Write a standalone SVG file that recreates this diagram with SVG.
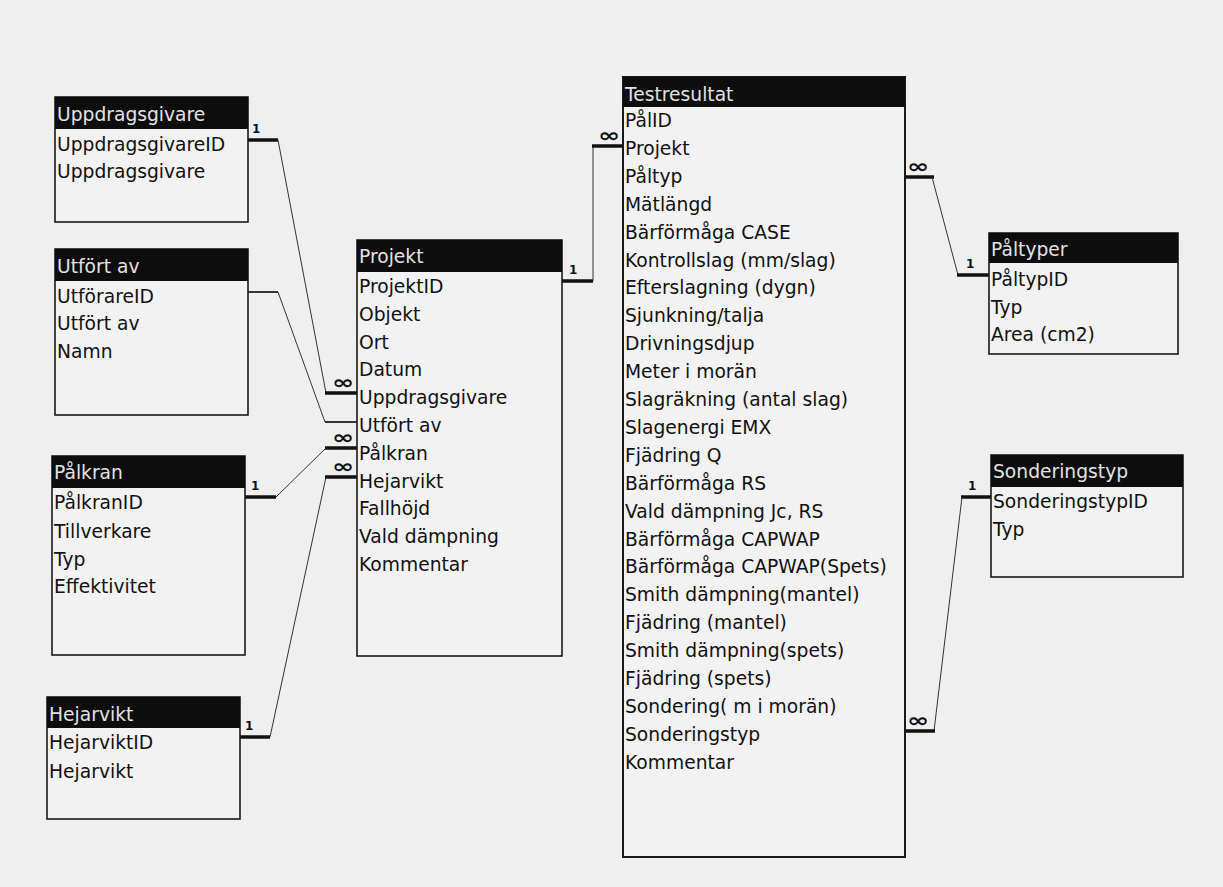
<svg xmlns="http://www.w3.org/2000/svg" width="1223" height="887" viewBox="0 0 1223 887">
<style>
.bg{fill:#efefef}
.box{fill:#f2f2f2;stroke:#1a1a1a;stroke-width:1.6}
.hdr{fill:#0d0d0d}
.ht{font-family:"DejaVu Sans",Verdana,sans-serif;font-size:18.7px;fill:#e2e2e2}
.ft{font-family:"DejaVu Sans",Verdana,sans-serif;font-size:18.7px;fill:#111}
.thin{stroke:#333;stroke-width:1;fill:none}
.thick{stroke:#111;stroke-width:3.5;fill:none}
.mid{stroke:#222;stroke-width:1.8;fill:none}
.one{font-family:"DejaVu Sans",Verdana,sans-serif;font-size:12px;font-weight:bold;fill:#111}
.inf{font-family:"DejaVu Sans",Verdana,sans-serif;font-size:19px;font-weight:bold;fill:#111;text-anchor:middle}
</style>
<rect class="bg" x="0" y="0" width="1223" height="887"/>

<g id="connectors">
  <!-- Uppdragsgivare -> Projekt -->
  <line class="thick" x1="248" y1="140" x2="278" y2="140"/>
  <line class="thin" x1="278" y1="140" x2="326" y2="393"/>
  <line class="thick" x1="325" y1="393" x2="357" y2="393"/>
  <text class="one" x="252" y="133">1</text>
  <text class="inf" transform="translate(343,389) scale(1.4,1)">∞</text>
  <!-- Utfört av -> Projekt -->
  <line class="mid" x1="248" y1="292" x2="278" y2="292"/>
  <line class="thin" x1="278" y1="292" x2="325" y2="422"/>
  <line class="mid" x1="325" y1="422" x2="357" y2="422"/>
  <!-- Pålkran -> Projekt -->
  <line class="thick" x1="245" y1="497" x2="276" y2="497"/>
  <line class="thin" x1="276" y1="497" x2="326" y2="448"/>
  <line class="thick" x1="325" y1="448" x2="357" y2="448"/>
  <text class="one" x="251" y="490">1</text>
  <text class="inf" transform="translate(343,444) scale(1.4,1)">∞</text>
  <!-- Hejarvikt -> Projekt -->
  <line class="thick" x1="240" y1="737" x2="270" y2="737"/>
  <line class="thin" x1="270" y1="737" x2="326" y2="477"/>
  <line class="thick" x1="325" y1="477" x2="357" y2="477"/>
  <text class="one" x="245" y="730">1</text>
  <text class="inf" transform="translate(343,473) scale(1.4,1)">∞</text>
  <!-- Projekt -> Testresultat -->
  <line class="thick" x1="562" y1="281" x2="593" y2="281"/>
  <line class="thin" x1="593" y1="281" x2="593" y2="146"/>
  <line class="thick" x1="592" y1="146" x2="623" y2="146"/>
  <text class="one" x="569" y="274">1</text>
  <text class="inf" transform="translate(609,142) scale(1.4,1)">∞</text>
  <!-- Testresultat -> Påltyper -->
  <line class="thick" x1="905" y1="177" x2="934" y2="177"/>
  <line class="thin" x1="932" y1="177" x2="958" y2="275"/>
  <line class="thick" x1="957" y1="275" x2="989" y2="275"/>
  <text class="one" x="966" y="268">1</text>
  <text class="inf" transform="translate(918,173) scale(1.4,1)">∞</text>
  <!-- Testresultat -> Sonderingstyp -->
  <line class="thick" x1="961" y1="497" x2="991" y2="497"/>
  <line class="thin" x1="962" y1="497" x2="934" y2="731"/>
  <line class="thick" x1="905" y1="731" x2="935" y2="731"/>
  <text class="one" x="968" y="490">1</text>
  <text class="inf" transform="translate(918,727) scale(1.4,1)">∞</text>
</g>

<g id="node-uppdragsgivare">
  <rect class="box" x="55" y="97" width="193" height="125"/>
  <rect class="hdr" x="55" y="97" width="193" height="32"/>
  <text class="ht" x="57" y="121">Uppdragsgivare</text>
  <text class="ft" x="57" y="151">UppdragsgivareID</text>
  <text class="ft" x="57" y="178">Uppdragsgivare</text>
</g>

<g id="node-utfort-av">
  <rect class="box" x="55" y="249" width="193" height="166"/>
  <rect class="hdr" x="55" y="249" width="193" height="32"/>
  <text class="ht" x="57" y="273">Utfört av</text>
  <text class="ft" x="57" y="303">UtförareID</text>
  <text class="ft" x="57" y="330">Utfört av</text>
  <text class="ft" x="57" y="358">Namn</text>
</g>

<g id="node-palkran">
  <rect class="box" x="52" y="456" width="193" height="199"/>
  <rect class="hdr" x="52" y="456" width="193" height="32"/>
  <text class="ht" x="54" y="479">Pålkran</text>
  <text class="ft" x="54" y="509">PålkranID</text>
  <text class="ft" x="54" y="538">Tillverkare</text>
  <text class="ft" x="54" y="566">Typ</text>
  <text class="ft" x="54" y="593">Effektivitet</text>
</g>

<g id="node-hejarvikt">
  <rect class="box" x="47" y="697" width="193" height="122"/>
  <rect class="hdr" x="47" y="697" width="193" height="31"/>
  <text class="ht" x="49" y="721">Hejarvikt</text>
  <text class="ft" x="49" y="749">HejarviktID</text>
  <text class="ft" x="49" y="778">Hejarvikt</text>
</g>

<g id="node-projekt">
  <rect class="box" x="357" y="240" width="205" height="416"/>
  <rect class="hdr" x="357" y="240" width="205" height="32"/>
  <text class="ht" x="359" y="263">Projekt</text>
  <text class="ft" x="359" y="293">ProjektID</text>
  <text class="ft" x="359" y="321">Objekt</text>
  <text class="ft" x="359" y="349">Ort</text>
  <text class="ft" x="359" y="376">Datum</text>
  <text class="ft" x="359" y="404">Uppdragsgivare</text>
  <text class="ft" x="359" y="432">Utfört av</text>
  <text class="ft" x="359" y="460">Pålkran</text>
  <text class="ft" x="359" y="488">Hejarvikt</text>
  <text class="ft" x="359" y="515">Fallhöjd</text>
  <text class="ft" x="359" y="543">Vald dämpning</text>
  <text class="ft" x="359" y="571">Kommentar</text>
</g>

<g id="node-testresultat">
  <rect class="box" x="623" y="77" width="282" height="780" style="stroke-width:2"/>
  <rect class="hdr" x="623" y="77" width="282" height="30"/>
  <text class="ht" x="625" y="101">Testresultat</text>
  <text class="ft" x="625" y="127">PålID</text>
  <text class="ft" x="625" y="155">Projekt</text>
  <text class="ft" x="625" y="183">Påltyp</text>
  <text class="ft" x="625" y="211">Mätlängd</text>
  <text class="ft" x="625" y="239">Bärförmåga CASE</text>
  <text class="ft" x="625" y="266.5">Kontrollslag (mm/slag)</text>
  <text class="ft" x="625" y="294.4">Efterslagning (dygn)</text>
  <text class="ft" x="625" y="322.3">Sjunkning/talja</text>
  <text class="ft" x="625" y="350.2">Drivningsdjup</text>
  <text class="ft" x="625" y="378.1">Meter i morän</text>
  <text class="ft" x="625" y="406">Slagräkning (antal slag)</text>
  <text class="ft" x="625" y="433.9">Slagenergi EMX</text>
  <text class="ft" x="625" y="461.8">Fjädring Q</text>
  <text class="ft" x="625" y="489.7">Bärförmåga RS</text>
  <text class="ft" x="625" y="517.6">Vald dämpning Jc, RS</text>
  <text class="ft" x="625" y="545.5">Bärförmåga CAPWAP</text>
  <text class="ft" x="625" y="573.4">Bärförmåga CAPWAP(Spets)</text>
  <text class="ft" x="625" y="601.3">Smith dämpning(mantel)</text>
  <text class="ft" x="625" y="629.2">Fjädring (mantel)</text>
  <text class="ft" x="625" y="657.1">Smith dämpning(spets)</text>
  <text class="ft" x="625" y="685">Fjädring (spets)</text>
  <text class="ft" x="625" y="712.9">Sondering( m i morän)</text>
  <text class="ft" x="625" y="740.8">Sonderingstyp</text>
  <text class="ft" x="625" y="768.7">Kommentar</text>
</g>

<g id="node-paltyper">
  <rect class="box" x="989" y="233" width="189" height="121"/>
  <rect class="hdr" x="989" y="233" width="189" height="30"/>
  <text class="ht" x="991" y="256">Påltyper</text>
  <text class="ft" x="991" y="286">PåltypID</text>
  <text class="ft" x="991" y="314">Typ</text>
  <text class="ft" x="991" y="341">Area (cm2)</text>
</g>

<g id="node-sonderingstyp">
  <rect class="box" x="991" y="455" width="192" height="122"/>
  <rect class="hdr" x="991" y="455" width="192" height="32"/>
  <text class="ht" x="993" y="478">Sonderingstyp</text>
  <text class="ft" x="993" y="508">SonderingstypID</text>
  <text class="ft" x="993" y="536">Typ</text>
</g>
</svg>
